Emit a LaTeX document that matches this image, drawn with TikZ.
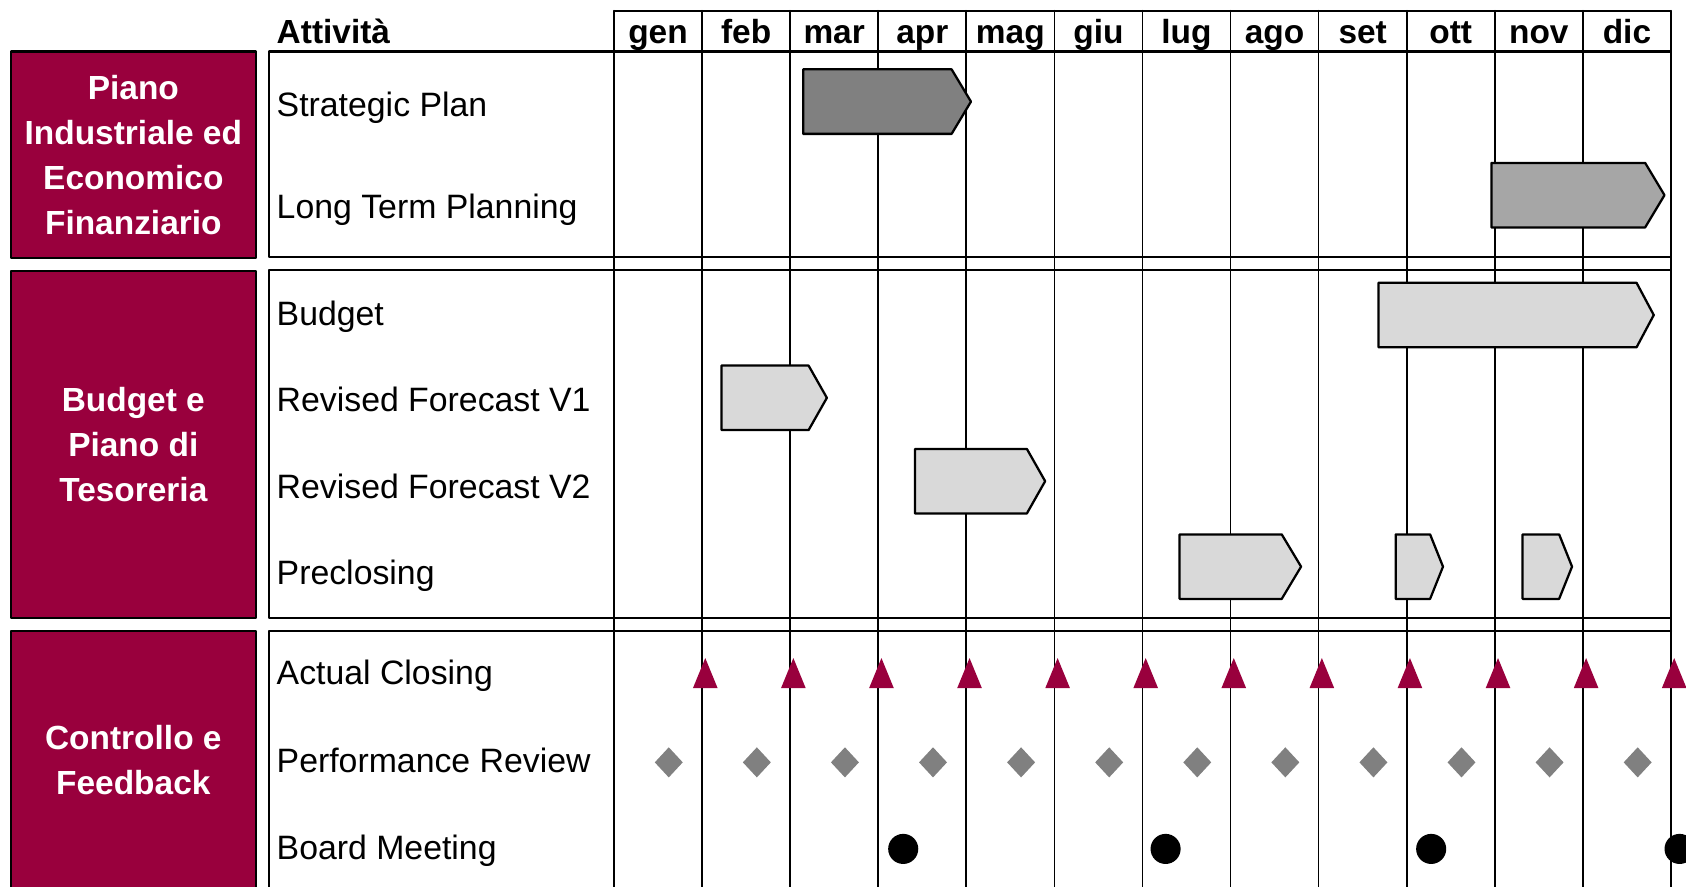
\documentclass[tikz,border=0pt]{standalone}
\usepackage{fontspec}
\setmainfont{Liberation Sans}
\usetikzlibrary{calc}
\definecolor{bordeaux}{RGB}{153,0,61}
\definecolor{bardark}{RGB}{128,128,128}
\definecolor{barmid}{RGB}{166,166,166}
\definecolor{barlight}{RGB}{217,217,217}
% phase bar: fill, x start, x end of body, x tip, y centre
\newcommand{\phasebar}[5]{%
	\draw[barline,fill=#1] (#2,#5-30) -- (#3,#5-30) -- (#4,#5) -- (#3,#5+30) -- (#2,#5+30) -- cycle;}

\begin{document}
\begin{tikzpicture}[x=0.02cm, y=-0.02cm, line cap=round, line join=round,
	font=\fontsize{17.9}{23.9}\selectfont,
	gridline/.style={black, line width=0.9pt},
	frameline/.style={black, line width=1.2pt},
	barline/.style={black, line width=1.2pt},
	groupbox/.style={draw=black, line width=1.2pt, fill=bordeaux, text=white,
		font=\fontsize{17.7}{23.9}\selectfont\bfseries, align=center, inner sep=0pt,
		minimum width=4.56cm},
	rowlabel/.style={anchor=base west, inner sep=0pt},
	monthlabel/.style={anchor=base, inner sep=0pt, font=\fontsize{17.7}{23.9}\selectfont\bfseries}]
\clip (0,0) rectangle (1568,824);
%========================
% Header
%========================
\node[rowlabel, font=\fontsize{17.7}{23.9}\selectfont\bfseries] (hdr) at (257,40.5) {Attività};
\foreach \m [count=\i] in {gen,feb,mar,apr,mag,giu,lug,ago,set,ott,nov,dic}
	\node[monthlabel] (m\i) at ({571+81.917*(\i-0.5)},40.5) {\m};

%========================
% Grid and section frames
%========================
\draw[gridline] (571,10) -- (1554,10);
\foreach \k in {0,...,12}
	\draw[gridline] ({571+81.917*\k},10) -- ({571+81.917*\k},840);
\draw[frameline] (250,48) rectangle (1554,239);
\draw[frameline] (250,251) rectangle (1554,575);
\draw[frameline] (250,840) -- (250,587) -- (1554,587);

%========================
% Left: process groups
%========================
\node[groupbox, minimum height=3.84cm] (grpPlan) at (124,144)
	{Piano\\Industriale ed\\Economico\\Finanziario};
\node[groupbox, minimum height=6.46cm] (grpBudget) at (124,413.5)
	{Budget e\\Piano di\\Tesoreria};
\node[groupbox, minimum height=4.78cm] (grpCtrl) at (124,706.5)
	{Controllo e\\Feedback};

%========================
% Activities
%========================
\node[rowlabel] (actStrat) at (257,108) {Strategic Plan};
\node[rowlabel] (actLong) at (257,203) {Long Term Planning};
\node[rowlabel] (actBudget) at (257,303) {Budget};
\node[rowlabel] (actRfA) at (257,383) {Revised Forecast V1};
\node[rowlabel] (actRfB) at (257,464) {Revised Forecast V2};
\node[rowlabel] (actPre) at (257,544) {Preclosing};
\node[rowlabel] (actClose) at (257,637) {Actual Closing};
\node[rowlabel] (actPerf) at (257,718) {Performance Review};
\node[rowlabel] (actBoard) at (257,799) {Board Meeting};

% phase bars
\phasebar{bardark}{747}{885}{903}{94.5}
\phasebar{barmid}{1387}{1530}{1548}{181.5}
\phasebar{barlight}{1282}{1522}{1538}{293}
\phasebar{barlight}{671}{752}{769}{370}
\phasebar{barlight}{851}{955}{972}{447.5}
\phasebar{barlight}{1097}{1192}{1210}{527}
\phasebar{barlight}{1298}{1330}{1342}{527}
\phasebar{barlight}{1416}{1450}{1462}{527}

% monthly closing (end of each month)
\foreach \k in {1,...,12}
	\fill[bordeaux] ({571+81.917*\k+3-11.5},640) -- ({571+81.917*\k+3+11.5},640)
		-- ({571+81.917*\k+3},612) -- cycle;
% performance review
\foreach \k in {1,...,12}
	\fill[bardark] ({571+81.917*(\k-0.5)+10},695) -- ({571+81.917*(\k-0.5)+23},709)
		-- ({571+81.917*(\k-0.5)+10},723) -- ({571+81.917*(\k-0.5)-3},709) -- cycle;
% board meetings
\foreach \x in {840,1084,1331,1562}
	\fill (\x,789.5) circle (0.28cm);
\end{tikzpicture}
\end{document}
